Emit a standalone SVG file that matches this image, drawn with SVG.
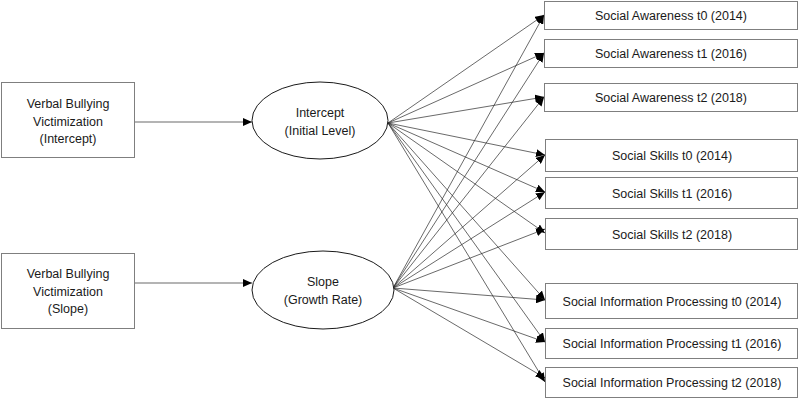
<svg xmlns="http://www.w3.org/2000/svg" width="799" height="398" viewBox="0 0 799 398">
<style>
.box{fill:#fff;stroke:#7f7f7f;stroke-width:1}
.ell{fill:#fff;stroke:#1a1a1a;stroke-width:1}
.t{font-family:"Liberation Sans",Arial,sans-serif;font-size:12.5px;fill:#1a1a1a;text-anchor:middle}
.c line{stroke:#2a2a2a;stroke-width:0.7;marker-end:url(#ah)}
</style>
<defs>
<marker id="ah" markerUnits="userSpaceOnUse" markerWidth="9" markerHeight="8" refX="9" refY="4" orient="auto">
<path d="M0,0 L9,4 L0,8 Z" fill="#000"/>
</marker>
</defs>
<rect width="799" height="398" fill="#fff"/>
<g id="connectors" class="c">
<line x1="135" y1="122" x2="252" y2="122"/>
<line x1="135" y1="283" x2="252" y2="283"/>
<line x1="388" y1="123" x2="544" y2="15"/>
<line x1="388" y1="123" x2="544" y2="53"/>
<line x1="388" y1="123" x2="544" y2="97"/>
<line x1="388" y1="123" x2="545" y2="155"/>
<line x1="388" y1="123" x2="545" y2="192"/>
<line x1="388" y1="123" x2="545" y2="233"/>
<line x1="388" y1="123" x2="545" y2="300"/>
<line x1="388" y1="123" x2="545" y2="342"/>
<line x1="388" y1="123" x2="545" y2="382"/>
<line x1="393" y1="288" x2="544" y2="15"/>
<line x1="393" y1="288" x2="544" y2="53"/>
<line x1="393" y1="288" x2="544" y2="97"/>
<line x1="393" y1="288" x2="545" y2="155"/>
<line x1="393" y1="288" x2="545" y2="192"/>
<line x1="393" y1="288" x2="545" y2="229"/>
<line x1="393" y1="288" x2="545" y2="300"/>
<line x1="393" y1="288" x2="545" y2="342"/>
<line x1="393" y1="288" x2="545" y2="378"/>
</g>
<g id="vbv_intercept">
<rect class="box" x="1.5" y="82.5" width="133" height="75"/>
<text class="t" x="68" y="108">Verbal Bullying</text>
<text class="t" x="68" y="125.5">Victimization</text>
<text class="t" x="68" y="143">(Intercept)</text>
</g>
<g id="vbv_slope">
<rect class="box" x="1.5" y="253.5" width="133" height="75"/>
<text class="t" x="68" y="278">Verbal Bullying</text>
<text class="t" x="68" y="295.5">Victimization</text>
<text class="t" x="68" y="313">(Slope)</text>
</g>
<g id="intercept">
<ellipse class="ell" cx="320" cy="120.5" rx="68" ry="38.5"/>
<text class="t" x="320" y="117">Intercept</text>
<text class="t" x="320" y="135">(Initial Level)</text>
</g>
<g id="slope">
<ellipse class="ell" cx="323" cy="290" rx="71" ry="39"/>
<text class="t" x="323" y="286">Slope</text>
<text class="t" x="323" y="304">(Growth Rate)</text>
</g>
<g id="sa_t0">
<rect class="box" x="544.5" y="1.5" width="253" height="28"/>
<text class="t" x="671" y="20">Social Awareness t0 (2014)</text>
</g>
<g id="sa_t1">
<rect class="box" x="544.5" y="39.5" width="253" height="28"/>
<text class="t" x="671" y="58">Social Awareness t1 (2016)</text>
</g>
<g id="sa_t2">
<rect class="box" x="544.5" y="83.5" width="253" height="28"/>
<text class="t" x="671" y="102">Social Awareness t2 (2018)</text>
</g>
<g id="ss_t0">
<rect class="box" x="545.5" y="139.5" width="252" height="32"/>
<text class="t" x="672" y="160">Social Skills t0 (2014)</text>
</g>
<g id="ss_t1">
<rect class="box" x="545.5" y="177.5" width="252" height="31"/>
<text class="t" x="672" y="197.5">Social Skills t1 (2016)</text>
</g>
<g id="ss_t2">
<rect class="box" x="545.5" y="218.5" width="252" height="31"/>
<text class="t" x="672" y="238.5">Social Skills t2 (2018)</text>
</g>
<g id="sip_t0">
<rect class="box" x="545.5" y="283.5" width="252" height="35"/>
<text class="t" x="672" y="305.5">Social Information Processing t0 (2014)</text>
</g>
<g id="sip_t1">
<rect class="box" x="545.5" y="328.5" width="252" height="30"/>
<text class="t" x="672" y="348">Social Information Processing t1 (2016)</text>
</g>
<g id="sip_t2">
<rect class="box" x="545.5" y="367.5" width="252" height="30"/>
<text class="t" x="672" y="387">Social Information Processing t2 (2018)</text>
</g>
</svg>
